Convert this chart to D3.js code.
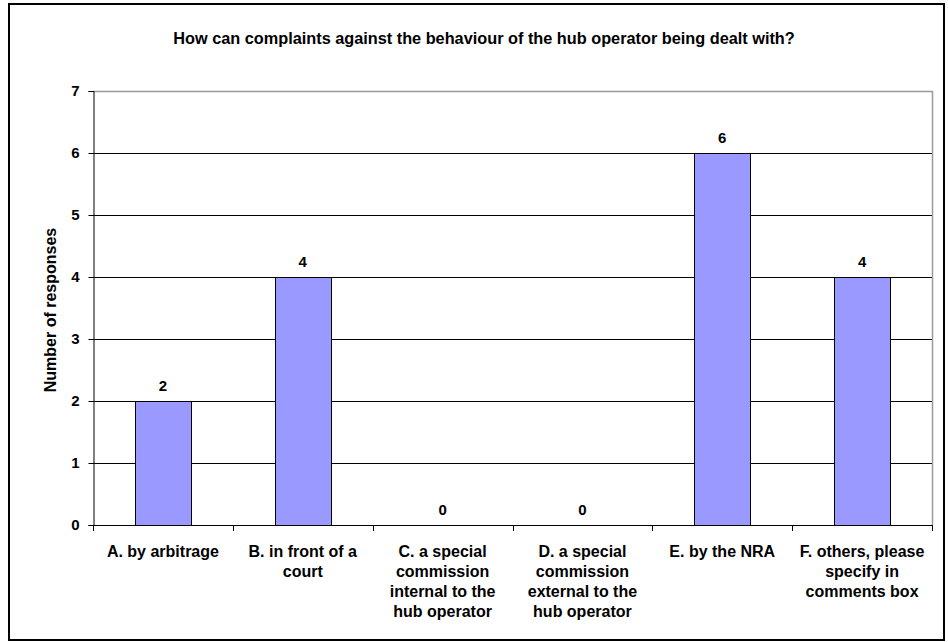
<!DOCTYPE html>
<html>
<head>
  <meta charset="utf-8">
  <style>
    body { margin: 0; background: #fff; }
    text { font-family: "Liberation Sans", Arial, sans-serif; font-weight: bold; fill: #000; }
    .grid line { stroke: #000; stroke-width: 1px; shape-rendering: crispEdges; }
    .bar { fill: #9999FF; stroke: #000; stroke-width: 1px; shape-rendering: crispEdges; }
  </style>
  <script src="https://d3js.org/d3.v7.min.js"></script>
</head>
<body>
  <div id="chart"></div>
  <script>
    // chart data
    var categories = ["A", "B", "C", "D", "E", "F"];
    var categoryLabels = [
      ["A. by arbitrage"],
      ["B. in front of a", "court"],
      ["C. a special", "commission", "internal to the", "hub operator"],
      ["D. a special", "commission", "external to the", "hub operator"],
      ["E. by the NRA"],
      ["F. others, please", "specify in", "comments box"]
    ];
    var responses = [2, 4, 0, 0, 6, 4];
    var yTicks = [0, 1, 2, 3, 4, 5, 6, 7];
    var chartTitle = "How can complaints against the behaviour of the hub operator being dealt with?";
    var yTitle = "Number of responses";

    var W = 948, H = 642;
    var plot = { left: 93, right: 932, top: 91, bottom: 525 };

    var svg = d3.select("#chart").append("svg")
      .attr("width", W)
      .attr("height", H);

    // outer frame
    svg.append("rect")
      .attr("x", 9).attr("y", 4)
      .attr("width", 935).attr("height", 636)
      .attr("fill", "#fff")
      .attr("stroke", "#000")
      .attr("stroke-width", 2);

    var x = d3.scaleBand()
      .domain(categories)
      .range([plot.left, plot.right])
      .paddingInner(0)
      .paddingOuter(0);

    var y = d3.scaleLinear()
      .domain([0, 7])
      .range([plot.bottom, plot.top]);

    // gridlines
    svg.append("g")
      .attr("class", "grid")
      .selectAll("line")
      .data(yTicks.filter(function(d) { return d > 0 && d < 7; }))
      .enter().append("line")
      .attr("x1", plot.left).attr("x2", plot.right)
      .attr("y1", function(d) { return Math.round(y(d)) + 0.5; })
      .attr("y2", function(d) { return Math.round(y(d)) + 0.5; });

    // plot area border (top and right gray)
    svg.append("path")
      .attr("d", "M" + plot.left + "," + (plot.top + 0.5) + "H" + (plot.right + 0.5) + "V" + plot.bottom)
      .attr("fill", "none")
      .attr("stroke", "#9a9a9a")
      .attr("stroke-width", 1.5);

    // bars
    var barW = x.bandwidth() * 0.4;
    svg.selectAll(".bar")
      .data(responses.map(function(v, i) { return { c: categories[i], v: v }; }).filter(function(d) { return d.v > 0; }))
      .enter().append("rect")
      .attr("class", "bar")
      .attr("x", function(d) { return Math.round(x(d.c) + (x.bandwidth() - barW) / 2) + 0.5; })
      .attr("y", function(d) { return Math.round(y(d.v)) + 0.5; })
      .attr("width", Math.round(barW))
      .attr("height", function(d) { return Math.round(y(0)) - Math.round(y(d.v)); });

    // value labels
    svg.selectAll(".val")
      .data(responses)
      .enter().append("text")
      .attr("class", "val")
      .attr("x", function(d, i) { return x(categories[i]) + x.bandwidth() / 2; })
      .attr("y", function(d) { return y(d) - 10; })
      .attr("text-anchor", "middle")
      .style("font-size", "15px")
      .text(function(d) { return d; });

    // y axis
    var yAxis = d3.axisLeft(y).tickValues(yTicks).tickFormat(d3.format("d")).tickSize(5).tickPadding(9);
    var gy = svg.append("g")
      .attr("transform", "translate(" + (plot.left + 0.5) + ",0)")
      .call(yAxis);
    gy.select(".domain").attr("stroke", "#000");
    gy.selectAll(".tick line").attr("stroke", "#000");
    gy.selectAll(".tick text")
      .style("font-size", "15px")
      .style("font-family", "'Liberation Sans', Arial, sans-serif")
      .style("font-weight", "bold");

    // x axis
    var xAxisLine = svg.append("g");
    xAxisLine.append("line")
      .attr("x1", plot.left).attr("x2", plot.right + 1)
      .attr("y1", plot.bottom + 0.5).attr("y2", plot.bottom + 0.5)
      .attr("stroke", "#000");
    var bounds = categories.map(function(c) { return x(c); }).concat([plot.right]);
    xAxisLine.selectAll(".xtick")
      .data(bounds)
      .enter().append("line")
      .attr("x1", function(d) { return Math.round(d) + 0.5; })
      .attr("x2", function(d) { return Math.round(d) + 0.5; })
      .attr("y1", plot.bottom)
      .attr("y2", plot.bottom + 6)
      .attr("stroke", "#000");

    // category labels
    var cat = svg.selectAll(".cat")
      .data(categoryLabels)
      .enter().append("text")
      .attr("class", "cat")
      .attr("text-anchor", "middle")
      .style("font-size", "16px");
    cat.selectAll("tspan")
      .data(function(d, i) { return d.map(function(t) { return { t: t, i: i }; }); })
      .enter().append("tspan")
      .attr("x", function(d) { return x(categories[d.i]) + x.bandwidth() / 2; })
      .attr("y", function(d, j) { return 557 + j * 20; })
      .text(function(d) { return d.t; });

    // title
    svg.append("text")
      .attr("x", 484)
      .attr("y", 44)
      .attr("text-anchor", "middle")
      .style("font-size", "16.3px")
      .text(chartTitle);

    // y title
    svg.append("text")
      .attr("transform", "translate(56,310) rotate(-90)")
      .attr("text-anchor", "middle")
      .style("font-size", "16px")
      .text(yTitle);
  </script>
</body>
</html>
